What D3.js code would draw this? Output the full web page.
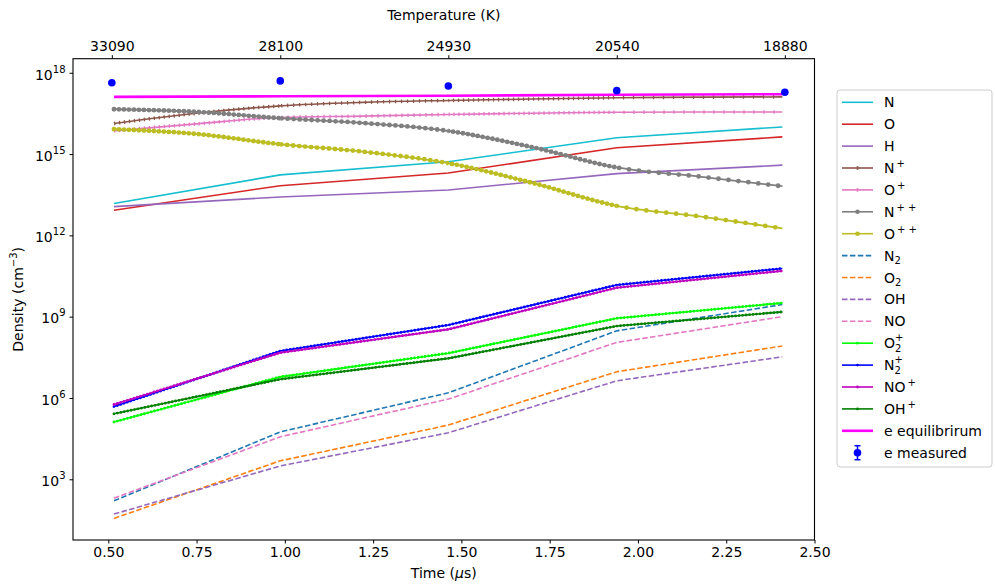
<!DOCTYPE html>
<html><head><meta charset="utf-8">
<script src="https://cdn.jsdelivr.net/npm/d3@7"></script>
<style>body{margin:0;background:#fff;} text{font-family:"DejaVu Sans",sans-serif;fill:#000;}</style>
</head><body><svg id="c" width="995" height="585"></svg>
<script>
// ---------- data ----------
const measuredTimes = [0.51, 0.987, 1.463, 1.94, 2.416];
const tempLabels = ["33090", "28100", "24930", "20540", "18880"];
const eMeasured = [4.27e17, 5.0e17, 3.24e17, 2.19e17, 1.9e17];

const modelTimes = [0.516, 0.987, 1.463, 1.94, 2.409];
const nN   = [1.5e13, 1.7e14, 5.2e14, 4.0e15, 1.0e16];
const nO   = [8.5e12, 6.8e13, 2.0e14, 1.7e15, 4.3e15];
const nH   = [1.15e13, 2.6e13, 4.7e13, 1.9e14, 3.9e14];
const eEquilibrium = [1.29e17, 1.35e17, 1.41e17, 1.55e17, 1.62e17];

const fineTimes = [0.516, 0.75, 0.987, 1.22, 1.463, 1.70, 1.94, 2.18, 2.409];
const nNp  = [1.35e16, 3.2e16, 6.0e16, 8.1e16, 9.5e16, 1.07e17, 1.2e17, 1.26e17, 1.29e17];
const nOp  = [7.2e15, 1.3e16, 2.24e16, 2.5e16, 2.9e16, 3.2e16, 3.5e16, 3.55e16, 3.55e16];
const nNpp = [4.5e16, 3.6e16, 2.1e16, 1.4e16, 7.1e15, 1.8e15, 3.2e14, 1.45e14, 6.5e13];
const nOpp = [8.3e15, 5.5e15, 2.3e15, 1.23e15, 4.6e14, 8.7e13, 1.23e13, 4.9e12, 1.8e12];

const nN2  = [1.6e2, 5.6e4, 1.55e6, 3.0e8, 2.8e9];
const nO2  = [36, 4.8e3, 1.0e5, 9.3e6, 8.3e7];
const nOH  = [52, 3.1e3, 5.2e4, 4.3e6, 3.3e7];
const nNO  = [2.0e2, 3.7e4, 9.1e5, 1.12e8, 1.0e9];
const nO2p = [1.3e5, 6.0e6, 4.5e7, 8.7e8, 3.2e9];
const nN2p = [4.8e5, 5.4e7, 4.9e8, 1.48e10, 6.0e10];
const nNOp = [5.75e5, 4.7e7, 3.4e8, 1.17e10, 4.9e10];
const nOHp = [2.6e5, 4.9e6, 2.9e7, 4.5e8, 1.5e9];

const xTicks = [0.5, 0.75, 1.0, 1.25, 1.5, 1.75, 2.0, 2.25, 2.5];
const yTicks = [1e3, 1e6, 1e9, 1e12, 1e15, 1e18];

// ---------- series (label parts + style) ----------
const series = [
  {parts:[["N"]], t:modelTimes, v:nN, color:"#17becf"},
  {parts:[["O"]], t:modelTimes, v:nO, color:"#d62728"},
  {parts:[["H"]], t:modelTimes, v:nH, color:"#9467bd"},
  {parts:[["N"],["+","sup"]], t:fineTimes, v:nNp, color:"#8c564b", marker:"tick", curve:true},
  {parts:[["O"],["+","sup"]], t:fineTimes, v:nOp, color:"#e377c2", marker:"tick", curve:true},
  {parts:[["N"],["+ +","sup"]], t:fineTimes, v:nNpp, color:"#7f7f7f", marker:"dot", curve:true},
  {parts:[["O"],["+ +","sup"]], t:fineTimes, v:nOpp, color:"#bcbd22", marker:"dot", curve:true},
  {parts:[["N"],["2","sub"]], t:modelTimes, v:nN2, color:"#1f77b4", dash:true},
  {parts:[["O"],["2","sub"]], t:modelTimes, v:nO2, color:"#ff7f0e", dash:true},
  {parts:[["OH"]], t:modelTimes, v:nOH, color:"#9467bd", dash:true},
  {parts:[["NO"]], t:modelTimes, v:nNO, color:"#e377c2", dash:true},
  {parts:[["O"],["2","subsup","+"]], t:modelTimes, v:nO2p, color:"#00ff00", marker:"small"},
  {parts:[["N"],["2","subsup","+"]], t:modelTimes, v:nN2p, color:"#0000ff", marker:"small"},
  {parts:[["NO"],["+","sup"]], t:modelTimes, v:nNOp, color:"#bf00bf", marker:"small"},
  {parts:[["OH"],["+","sup"]], t:modelTimes, v:nOHp, color:"#008000", marker:"small"},
  {parts:[["e equilibrirum"]], t:modelTimes, v:eEquilibrium, color:"#ff00ff", width:2.6}
];

// ---------- layout ----------
const svg = d3.select("#c");
const L = 73, R = 814.5, T = 58.7, B = 540;
const x = d3.scaleLinear().domain([0.4, 2.5]).range([L, R]);
const y = d3.scaleLog().domain([5.75, 3.3e18]).range([B, T]);
const FS = 14;

svg.append("clipPath").attr("id","plotclip").append("rect")
  .attr("x", L).attr("y", T).attr("width", R-L).attr("height", B-T);

const segBounds = modelTimes;
const segSpacing = [5, 6, 5, 10];
segBounds.slice(0,-1).forEach((t0,i)=>{
  const t1 = segBounds[i+1];
  const xa = i===0 ? L : (x(t0));
  const xb = i===segBounds.length-2 ? R : x(t1);
  svg.append("clipPath").attr("id","seg"+i).append("rect")
    .attr("x", xa).attr("y", T).attr("width", xb-xa).attr("height", B-T);
});

const plot = svg.append("g").attr("clip-path","url(#plotclip)");

series.forEach(s=>{
  const pts = s.t.map((t,i)=>[x(t), y(s.v[i])]);
  const line = d3.line().curve(s.curve ? d3.curveMonotoneX : d3.curveLinear);
  const d = line(pts);
  plot.append("path").attr("d", d).attr("fill","none")
    .attr("stroke", s.color).attr("stroke-width", s.width || (s.marker==="dot" ? 1.8 : 1.6))
    .attr("stroke-dasharray", s.dash ? "5.5,2.4" : null);
  if (s.marker === "dot" || s.marker === "tick") {
    segSpacing.forEach((sp,i)=>{
      const p = plot.append("g").attr("clip-path","url(#seg"+i+")").append("path")
        .attr("d", d).attr("fill","none").attr("stroke", s.color);
      if (s.marker === "dot") {
        p.attr("stroke-width", 4.8).attr("stroke-linecap","round").attr("stroke-dasharray", "0," + sp);
      } else {
        p.attr("stroke-width", 3.6).attr("stroke-linecap","butt").attr("stroke-dasharray", "1.3," + (sp-1.3));
      }
    });
  } else if (s.marker === "small") {
    plot.append("path").attr("d", d).attr("fill","none").attr("stroke", s.color)
      .attr("stroke-width", 2.8).attr("stroke-linecap","round").attr("stroke-dasharray","0,3.5");
  }
});

// measured electrons
plot.selectAll("circle.em").data(measuredTimes).enter().append("circle")
  .attr("cx", d=>x(d)).attr("cy", (d,i)=>y(eMeasured[i])).attr("r", 3.8).attr("fill","#0000ff");

// frame
svg.append("rect").attr("x", L).attr("y", T).attr("width", R-L).attr("height", B-T)
  .attr("fill","none").attr("stroke","#000").attr("stroke-width",1.1);

// axes
function styleAxis(g){
  g.select(".domain").remove();
  g.selectAll("line").attr("stroke","#000").attr("stroke-width",1);
  g.selectAll("text").style("font-family",'"DejaVu Sans",sans-serif').style("font-size",FS+"px").attr("fill","#000");
}
svg.append("g").attr("transform",`translate(0,${B})`)
  .call(d3.axisBottom(x).tickValues(xTicks).tickFormat(d3.format(".2f")).tickSize(3.5).tickPadding(4))
  .call(styleAxis);
svg.append("g").attr("transform",`translate(0,${T})`)
  .call(d3.axisTop(x).tickValues(measuredTimes).tickFormat((d,i)=>tempLabels[i]).tickSize(3.5).tickPadding(4))
  .call(styleAxis);
const ya = svg.append("g").attr("transform",`translate(${L},0)`)
  .call(d3.axisLeft(y).tickValues(yTicks).tickFormat(()=>"").tickSize(3.5).tickPadding(4))
  .call(styleAxis);
ya.selectAll(".tick text").each(function(d){
  const t = d3.select(this);
  t.text(null).attr("dy","0.45em");
  t.append("tspan").text("10");
  t.append("tspan").attr("dy",-7).style("font-size","10px").text(Math.round(Math.log10(d)));
});

// axis labels
svg.append("text").attr("x", (L+R)/2).attr("y", 578).attr("text-anchor","middle")
  .style("font-size",FS+"px").html('Time (<tspan font-style="italic">μ</tspan>s)');
svg.append("text").attr("x", (L+R)/2).attr("y", 19.5).attr("text-anchor","middle")
  .style("font-size",FS+"px").text("Temperature (K)");
const yl = svg.append("text").attr("transform",`translate(23,${(T+B)/2}) rotate(-90)`)
  .attr("text-anchor","middle").style("font-size",FS+"px");
yl.append("tspan").text("Density (cm");
yl.append("tspan").attr("dy",-6).style("font-size","10px").text("−3");
yl.append("tspan").attr("dy",6).text(")");

// legend
const lg = svg.append("g");
lg.append("rect").attr("x",837).attr("y",90).attr("width",155).attr("height",377).attr("rx",3)
  .attr("fill","#fff").attr("fill-opacity",0.8).attr("stroke","#cccccc").attr("stroke-width",1);
const rowY = i => 102.3 + i*21.9;
const lx0 = 842, lx1 = 873, tx = 884;
function addLabel(g, parts, yy){
  const t = g.append("text").attr("x", tx).attr("y", yy+5).style("font-size",FS+"px");
  parts.forEach(p=>{
    if (!p[1]) { t.append("tspan").text(p[0]); }
    else if (p[1]==="sup") { t.append("tspan").attr("dx",2).attr("dy",-6).style("font-size","10px").text(p[0]); }
    else if (p[1]==="sub") { t.append("tspan").attr("dy",3.5).style("font-size","10px").text(p[0]); }
    else if (p[1]==="subsup") {
      t.append("tspan").attr("dy",3.5).style("font-size","10px").text(p[0]);
      t.append("tspan").attr("dx",-6.4).attr("dy",-10.5).style("font-size","10px").text(p[2]);
    }
  });
}
series.forEach((s,i)=>{
  const yy = rowY(i);
  const g = lg.append("g");
  g.append("line").attr("x1",lx0).attr("x2",lx1).attr("y1",yy).attr("y2",yy)
    .attr("stroke", s.color).attr("stroke-width", s.width || 1.6)
    .attr("stroke-dasharray", s.dash ? "5.5,2.4" : null);
  if (s.marker === "dot") g.append("circle").attr("cx",(lx0+lx1)/2).attr("cy",yy).attr("r",2.3).attr("fill",s.color);
  if (s.marker === "tick") g.append("rect").attr("x",(lx0+lx1)/2-0.8).attr("y",yy-1.8).attr("width",1.6).attr("height",3.6).attr("fill",s.color);
  if (s.marker === "small") g.append("circle").attr("cx",(lx0+lx1)/2).attr("cy",yy).attr("r",1.4).attr("fill",s.color);
  addLabel(g, s.parts, yy);
});
// e measured legend entry
{
  const yy = rowY(series.length), cx = (lx0+lx1)/2;
  const g = lg.append("g");
  g.append("line").attr("x1",cx).attr("x2",cx).attr("y1",yy-7).attr("y2",yy+7).attr("stroke","#0000ff").attr("stroke-width",1.5);
  g.append("line").attr("x1",cx-3).attr("x2",cx+3).attr("y1",yy-7).attr("y2",yy-7).attr("stroke","#0000ff").attr("stroke-width",1.5);
  g.append("line").attr("x1",cx-3).attr("x2",cx+3).attr("y1",yy+7).attr("y2",yy+7).attr("stroke","#0000ff").attr("stroke-width",1.5);
  g.append("circle").attr("cx",cx).attr("cy",yy).attr("r",3.8).attr("fill","#0000ff");
  addLabel(g, [["e measured"]], yy);
}
</script></body></html>
